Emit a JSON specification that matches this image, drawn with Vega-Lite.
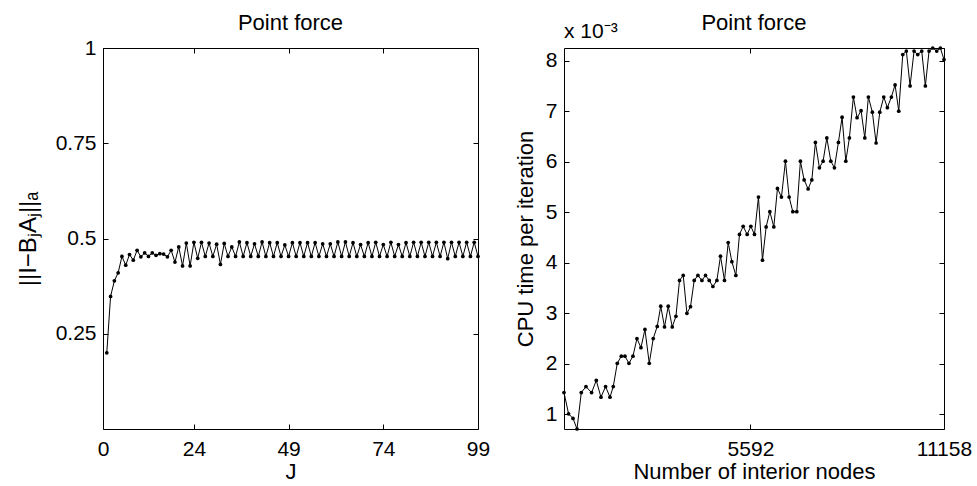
{
  "$schema": "https://vega.github.io/schema/vega-lite/v6.json",
  "padding": {"left": 15, "top": 11, "right": 0, "bottom": 0},
  "spacing": 86,
  "bounds": "flush",
  "config": {
    "font": "Liberation Sans",
    "view": {"stroke": "black", "strokeWidth": 1},
    "axis": {"domain": false, "grid": false, "tickColor": "black", "tickSize": -5, "tickWidth": 1, "labelFontSize": 21, "labelColor": "black", "labelFlush": false, "labelOverlap": false, "titleFontSize": 22, "titleFontWeight": "normal", "titleColor": "black"},
    "axisX": {"labelPadding": 14, "titlePadding": 2},
    "axisY": {"labelPadding": 12, "titlePadding": 8},
    "title": {"fontSize": 22, "fontWeight": "normal", "color": "black", "baseline": "alphabetic"}
  },
  "datasets": {
    "left": [
      {"J": 1, "v": 0.200}, {"J": 2, "v": 0.348}, {"J": 3, "v": 0.389}, {"J": 4, "v": 0.410}, {"J": 5, "v": 0.453},
      {"J": 6, "v": 0.430}, {"J": 7, "v": 0.458}, {"J": 8, "v": 0.443}, {"J": 9, "v": 0.469}, {"J": 10, "v": 0.452},
      {"J": 11, "v": 0.462}, {"J": 12, "v": 0.453}, {"J": 13, "v": 0.462}, {"J": 14, "v": 0.456}, {"J": 15, "v": 0.460},
      {"J": 16, "v": 0.459}, {"J": 17, "v": 0.452}, {"J": 18, "v": 0.469}, {"J": 19, "v": 0.438}, {"J": 20, "v": 0.478},
      {"J": 21, "v": 0.428}, {"J": 22, "v": 0.488}, {"J": 23, "v": 0.428}, {"J": 24, "v": 0.490}, {"J": 25, "v": 0.448},
      {"J": 26, "v": 0.490}, {"J": 27, "v": 0.453}, {"J": 28, "v": 0.488}, {"J": 29, "v": 0.453}, {"J": 30, "v": 0.485},
      {"J": 31, "v": 0.432}, {"J": 32, "v": 0.487}, {"J": 33, "v": 0.453}, {"J": 34, "v": 0.478}, {"J": 35, "v": 0.453},
      {"J": 36, "v": 0.491}, {"J": 37, "v": 0.453}, {"J": 38, "v": 0.489}, {"J": 39, "v": 0.453}, {"J": 40, "v": 0.486},
      {"J": 41, "v": 0.453}, {"J": 42, "v": 0.491}, {"J": 43, "v": 0.453}, {"J": 44, "v": 0.489}, {"J": 45, "v": 0.453},
      {"J": 46, "v": 0.489}, {"J": 47, "v": 0.453}, {"J": 48, "v": 0.483}, {"J": 49, "v": 0.453}, {"J": 50, "v": 0.489},
      {"J": 51, "v": 0.453}, {"J": 52, "v": 0.489}, {"J": 53, "v": 0.453}, {"J": 54, "v": 0.489}, {"J": 55, "v": 0.453},
      {"J": 56, "v": 0.489}, {"J": 57, "v": 0.453}, {"J": 58, "v": 0.486}, {"J": 59, "v": 0.453}, {"J": 60, "v": 0.486},
      {"J": 61, "v": 0.453}, {"J": 62, "v": 0.491}, {"J": 63, "v": 0.453}, {"J": 64, "v": 0.491}, {"J": 65, "v": 0.453},
      {"J": 66, "v": 0.489}, {"J": 67, "v": 0.453}, {"J": 68, "v": 0.484}, {"J": 69, "v": 0.453}, {"J": 70, "v": 0.489},
      {"J": 71, "v": 0.453}, {"J": 72, "v": 0.490}, {"J": 73, "v": 0.453}, {"J": 74, "v": 0.484}, {"J": 75, "v": 0.453},
      {"J": 76, "v": 0.490}, {"J": 77, "v": 0.453}, {"J": 78, "v": 0.484}, {"J": 79, "v": 0.453}, {"J": 80, "v": 0.489},
      {"J": 81, "v": 0.453}, {"J": 82, "v": 0.490}, {"J": 83, "v": 0.453}, {"J": 84, "v": 0.490}, {"J": 85, "v": 0.453},
      {"J": 86, "v": 0.490}, {"J": 87, "v": 0.453}, {"J": 88, "v": 0.490}, {"J": 89, "v": 0.453}, {"J": 90, "v": 0.490},
      {"J": 91, "v": 0.447}, {"J": 92, "v": 0.490}, {"J": 93, "v": 0.453}, {"J": 94, "v": 0.490}, {"J": 95, "v": 0.453},
      {"J": 96, "v": 0.490}, {"J": 97, "v": 0.453}, {"J": 98, "v": 0.490}, {"J": 99, "v": 0.453}
    ],
    "right": [
      {"n": 229, "t": 1.43}, {"n": 361, "t": 1.01}, {"n": 488, "t": 0.92}, {"n": 603, "t": 0.71}, {"n": 726, "t": 1.43},
      {"n": 861, "t": 1.55}, {"n": 1022, "t": 1.43}, {"n": 1157, "t": 1.67}, {"n": 1292, "t": 1.34}, {"n": 1425, "t": 1.55},
      {"n": 1551, "t": 1.34}, {"n": 1646, "t": 1.55}, {"n": 1761, "t": 2.01}, {"n": 1876, "t": 2.15}, {"n": 1982, "t": 2.15},
      {"n": 2097, "t": 2.01}, {"n": 2212, "t": 2.15}, {"n": 2327, "t": 2.50}, {"n": 2442, "t": 2.32}, {"n": 2557, "t": 2.68},
      {"n": 2681, "t": 2.01}, {"n": 2795, "t": 2.50}, {"n": 2910, "t": 2.74}, {"n": 3011, "t": 3.14}, {"n": 3120, "t": 2.73},
      {"n": 3227, "t": 3.14}, {"n": 3342, "t": 2.73}, {"n": 3448, "t": 2.94}, {"n": 3551, "t": 3.65}, {"n": 3658, "t": 3.75},
      {"n": 3764, "t": 3.00}, {"n": 3867, "t": 3.13}, {"n": 3974, "t": 3.65}, {"n": 4080, "t": 3.75}, {"n": 4195, "t": 3.65},
      {"n": 4299, "t": 3.75}, {"n": 4405, "t": 3.65}, {"n": 4511, "t": 3.53}, {"n": 4626, "t": 3.65}, {"n": 4730, "t": 4.13},
      {"n": 4845, "t": 3.65}, {"n": 4951, "t": 4.40}, {"n": 5057, "t": 4.02}, {"n": 5172, "t": 3.75}, {"n": 5276, "t": 4.56},
      {"n": 5382, "t": 4.72}, {"n": 5497, "t": 4.56}, {"n": 5603, "t": 4.72}, {"n": 5707, "t": 4.56}, {"n": 5822, "t": 5.30},
      {"n": 5937, "t": 4.05}, {"n": 6043, "t": 4.71}, {"n": 6149, "t": 5.01}, {"n": 6264, "t": 4.71}, {"n": 6368, "t": 5.47},
      {"n": 6483, "t": 5.30}, {"n": 6598, "t": 6.01}, {"n": 6704, "t": 5.30}, {"n": 6810, "t": 5.01}, {"n": 6925, "t": 5.01},
      {"n": 7029, "t": 6.01}, {"n": 7135, "t": 5.64}, {"n": 7250, "t": 5.46}, {"n": 7357, "t": 5.64}, {"n": 7460, "t": 6.38},
      {"n": 7575, "t": 5.88}, {"n": 7681, "t": 6.01}, {"n": 7788, "t": 6.47}, {"n": 7903, "t": 6.01}, {"n": 8006, "t": 5.88},
      {"n": 8121, "t": 6.38}, {"n": 8227, "t": 6.88}, {"n": 8334, "t": 6.01}, {"n": 8437, "t": 6.47}, {"n": 8552, "t": 7.28},
      {"n": 8658, "t": 6.87}, {"n": 8773, "t": 7.01}, {"n": 8880, "t": 6.47}, {"n": 8983, "t": 7.28}, {"n": 9098, "t": 6.98},
      {"n": 9205, "t": 6.37}, {"n": 9311, "t": 6.98}, {"n": 9426, "t": 7.28}, {"n": 9529, "t": 7.07}, {"n": 9644, "t": 7.28},
      {"n": 9751, "t": 7.52}, {"n": 9857, "t": 7.00}, {"n": 9972, "t": 8.12}, {"n": 10075, "t": 8.19}, {"n": 10182, "t": 7.50},
      {"n": 10297, "t": 8.19}, {"n": 10403, "t": 8.12}, {"n": 10518, "t": 8.19}, {"n": 10622, "t": 7.50}, {"n": 10728, "t": 8.19},
      {"n": 10834, "t": 8.25}, {"n": 10949, "t": 8.19}, {"n": 11053, "t": 8.25}, {"n": 11158, "t": 8.02}
    ]
  },
  "hconcat": [
    {
      "width": 375,
      "height": 381,
      "title": {"text": "Point force", "offset": 2},
      "data": {"name": "left"},
      "layer": [
        {
          "mark": {"type": "line", "color": "black", "strokeWidth": 1, "point": {"filled": true, "color": "black", "size": 14, "opacity": 1}},
          "encoding": {
            "x": {"field": "J", "type": "quantitative", "scale": {"domain": [0, 99], "nice": false, "zero": false},
                  "axis": {"orient": "bottom", "values": [0, 24, 49, 74, 99], "format": "d", "title": "J"}},
            "y": {"field": "v", "type": "quantitative", "scale": {"domain": [0, 1], "nice": false},
                  "axis": {"orient": "left", "values": [0.25, 0.5, 0.75, 1], "labelExpr": "'' + datum.value", "title": "||I−BⱼAⱼ||ₐ", "titleFontSize": 24, "titlePadding": 15}}
          }
        },
        {
          "mark": {"type": "line", "strokeOpacity": 0},
          "encoding": {
            "x": {"field": "J", "type": "quantitative", "axis": {"orient": "top", "values": [0, 24, 49, 74, 99], "labels": false, "title": null, "minExtent": 0}},
            "y": {"field": "v", "type": "quantitative", "axis": {"orient": "right", "values": [0.25, 0.5, 0.75, 1], "labels": false, "title": null, "minExtent": 0}}
          }
        }
      ]
    },
    {
      "width": 380,
      "height": 381,
      "title": {"text": "Point force", "offset": -13.5},
      "layer": [
        {
          "data": {"name": "right"},
          "mark": {"type": "line", "color": "black", "strokeWidth": 1, "point": {"filled": true, "color": "black", "size": 14, "opacity": 1}},
          "encoding": {
            "x": {"field": "n", "type": "quantitative", "scale": {"domain": [229, 11158], "nice": false, "zero": false},
                  "axis": {"orient": "bottom", "values": [5592, 11158], "format": "d", "title": "Number of interior nodes"}},
            "y": {"field": "t", "type": "quantitative", "scale": {"domain": [0.71, 8.25], "nice": false, "zero": false},
                  "axis": {"orient": "left", "values": [1, 2, 3, 4, 5, 6, 7, 8], "format": "d", "title": "CPU time per iteration"}}
          }
        },
        {
          "data": {"name": "right"},
          "mark": {"type": "line", "strokeOpacity": 0},
          "encoding": {
            "x": {"field": "n", "type": "quantitative", "axis": {"orient": "top", "values": [5592, 11158], "labels": false, "title": null, "minExtent": 0}},
            "y": {"field": "t", "type": "quantitative", "axis": {"orient": "right", "values": [1, 2, 3, 4, 5, 6, 7, 8], "labels": false, "title": null, "minExtent": 0}}
          }
        },
        {
          "data": {"values": [{"label": "x 10⁻³"}]},
          "mark": {"type": "text", "align": "left", "baseline": "alphabetic", "dy": -10, "fontSize": 21, "color": "black"},
          "encoding": {
            "x": {"datum": 229, "type": "quantitative", "axis": null},
            "y": {"datum": 8.25, "type": "quantitative", "axis": null},
            "text": {"field": "label"}
          }
        }
      ]
    }
  ]
}
